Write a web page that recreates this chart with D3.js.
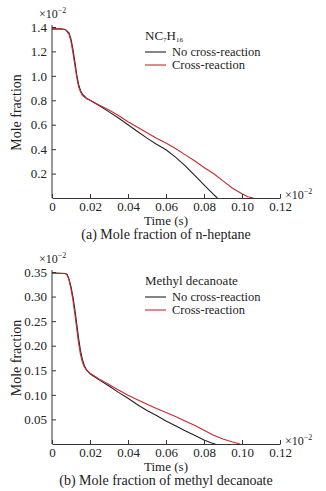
<!DOCTYPE html>
<html>
<head>
<meta charset="utf-8">
<script src="https://cdn.jsdelivr.net/npm/d3@7"></script>
<style>
  body { margin: 0; background: #fff; }
  svg text { font-family: "Liberation Serif", "Times New Roman", serif; fill: #222; }
</style>
</head>
<body>
<div id="chart"></div>
<script>
// Data (values are x10^-2)
const heptaneTime = [0, 0.004, 0.007, 0.009, 0.010, 0.011, 0.012, 0.013, 0.014, 0.015, 0.016, 0.018, 0.020, 0.025, 0.030, 0.035, 0.040, 0.045, 0.050, 0.055, 0.060, 0.065, 0.070, 0.075, 0.080, 0.085, 0.087]
const heptaneNoCross = [1.385, 1.385, 1.38, 1.35, 1.30, 1.22, 1.12, 1.01, 0.93, 0.88, 0.85, 0.82, 0.80, 0.755, 0.705, 0.655, 0.60, 0.545, 0.49, 0.44, 0.395, 0.335, 0.265, 0.187, 0.107, 0.03, 0]
const heptaneCrossTime = [0, 0.004, 0.007, 0.009, 0.010, 0.011, 0.012, 0.013, 0.014, 0.015, 0.016, 0.018, 0.020, 0.025, 0.030, 0.035, 0.040, 0.045, 0.050, 0.055, 0.060, 0.065, 0.070, 0.075, 0.080, 0.085, 0.090, 0.095, 0.100, 0.103, 0.106]
const heptaneCross = [1.385, 1.385, 1.38, 1.34, 1.28, 1.19, 1.09, 0.99, 0.91, 0.87, 0.84, 0.815, 0.80, 0.76, 0.72, 0.675, 0.625, 0.58, 0.535, 0.49, 0.45, 0.405, 0.355, 0.305, 0.25, 0.20, 0.14, 0.08, 0.035, 0.01, 0]

const mdTime = [0, 0.007, 0.008, 0.009, 0.010, 0.011, 0.012, 0.013, 0.014, 0.015, 0.016, 0.017, 0.018, 0.020, 0.025, 0.030, 0.035, 0.040, 0.045, 0.050, 0.055, 0.060, 0.065, 0.070, 0.075, 0.080, 0.084, 0.086]
const mdNoCross = [0.348, 0.347, 0.345, 0.335, 0.32, 0.30, 0.275, 0.245, 0.215, 0.19, 0.172, 0.16, 0.152, 0.143, 0.13, 0.118, 0.105, 0.093, 0.08, 0.068, 0.058, 0.047, 0.037, 0.027, 0.018, 0.008, 0.002, 0]
const mdCrossTime = [0, 0.007, 0.008, 0.009, 0.010, 0.011, 0.012, 0.013, 0.014, 0.015, 0.016, 0.017, 0.018, 0.020, 0.025, 0.030, 0.035, 0.040, 0.045, 0.050, 0.055, 0.060, 0.065, 0.070, 0.075, 0.080, 0.085, 0.090, 0.095, 0.099]
const mdCross = [0.348, 0.347, 0.344, 0.333, 0.315, 0.293, 0.265, 0.235, 0.205, 0.182, 0.166, 0.157, 0.151, 0.144, 0.132, 0.121, 0.11, 0.099, 0.09, 0.081, 0.072, 0.064, 0.056, 0.047, 0.038, 0.028, 0.018, 0.01, 0.004, 0]

const xTicks = [0, 0.02, 0.04, 0.06, 0.08, 0.10, 0.12]
const heptaneTicks = [0.2, 0.4, 0.6, 0.8, 1.0, 1.2, 1.4]
const mdTicks = [0.05, 0.10, 0.15, 0.20, 0.25, 0.30, 0.35]
const legendNames = ['No cross-reaction', 'Cross-reaction']
const colors = ['#222', '#c8282e']

const width = 326, height = 491
const serif = '"Liberation Serif", "Times New Roman", serif'

const svg = d3.select('#chart')
  .append('svg')
  .attr('width', width)
  .attr('height', height)
  .attr('font-family', serif)

function panel(opt) {
  const x = d3.scaleLinear().domain([0, 0.12]).range([52, 280])
  const y = d3.scaleLinear().domain(opt.yDomain).range([opt.bottom, opt.top])
  const g = svg.append('g')

  // lines
  const line = d3.line().x(d => x(d[0])).y(d => y(d[1]))
  opt.series.forEach((s, i) => {
    g.append('path')
      .datum(d3.zip(s.t, s.v))
      .attr('d', line)
      .attr('fill', 'none')
      .attr('stroke', colors[i])
      .attr('stroke-width', 1.1)
  })

  // axes (ticks point inward)
  const xAxis = d3.axisBottom(x).tickValues(xTicks)
    .tickFormat(d => d === 0 ? '0' : d3.format('.2f')(d))
    .tickSizeInner(-4).tickSizeOuter(0).tickPadding(4)
  const gx = g.append('g').attr('transform', `translate(0,${opt.bottom})`).call(xAxis)
  const yAxis = d3.axisLeft(y).tickValues(opt.yTicks)
    .tickFormat(d3.format(opt.yFormat))
    .tickSizeInner(-4).tickSizeOuter(0).tickPadding(5)
  const gy = g.append('g').attr('transform', 'translate(52,0)').call(yAxis)
  ;[gx, gy].forEach(a => {
    a.attr('font-family', serif).attr('font-size', 13)
    a.selectAll('path, line').attr('stroke', '#333')
    a.selectAll('text').attr('fill', '#222').style('font-family', serif)
  })
  gy.select('.domain').attr('d', `M0,${opt.top - 2}V${opt.bottom}`)

  // exponent marks
  const exp = (px, py) => {
    const t = g.append('text').attr('x', px).attr('y', py).attr('font-size', 12)
    t.append('tspan').text('×10')
    t.append('tspan').text('−2').attr('font-size', 8).attr('dy', -5)
  }
  exp(39, opt.top - 9)
  exp(285, opt.bottom + 1)

  // labels
  g.append('text')
    .attr('transform', `translate(21,${(opt.top + opt.bottom) / 2}) rotate(-90)`)
    .attr('text-anchor', 'middle').attr('font-size', 14)
    .text('Mole fraction')
  g.append('text')
    .attr('x', 166).attr('y', opt.bottom + 27)
    .attr('text-anchor', 'middle').attr('font-size', 13)
    .text('Time (s)')
  g.append('text')
    .attr('x', 166).attr('y', opt.bottom + 41)
    .attr('text-anchor', 'middle').attr('font-size', 14)
    .text(opt.caption)

  // legend
  const lg = g.append('g').attr('transform', `translate(145,${opt.top + 13})`)
  opt.title(lg.append('text').attr('x', 0).attr('y', 0).attr('font-size', 13))
  legendNames.forEach((n, i) => {
    const ly = 16 + i * 13
    lg.append('line').attr('x1', 0).attr('x2', 21).attr('y1', ly - 4).attr('y2', ly - 4)
      .attr('stroke', colors[i]).attr('stroke-width', 1.1)
    lg.append('text').attr('x', 27).attr('y', ly).attr('font-size', 12.5).text(n)
  })
}

panel({
  top: 27, bottom: 198, yDomain: [0, 1.4], yTicks: heptaneTicks, yFormat: '.1f',
  series: [{ t: heptaneTime, v: heptaneNoCross }, { t: heptaneCrossTime, v: heptaneCross }],
  caption: '(a) Mole fraction of n-heptane',
  title: t => {
    t.append('tspan').text('NC')
    t.append('tspan').text('7').attr('font-size', 7).attr('dy', 2)
    t.append('tspan').text('H').attr('dy', -2)
    t.append('tspan').text('16').attr('font-size', 7).attr('dy', 2)
  }
})

panel({
  top: 272, bottom: 444, yDomain: [0, 0.35], yTicks: mdTicks, yFormat: '.2f',
  series: [{ t: mdTime, v: mdNoCross }, { t: mdCrossTime, v: mdCross }],
  caption: '(b) Mole fraction of methyl decanoate',
  title: t => t.text('Methyl decanoate')
})
</script>
</body>
</html>
